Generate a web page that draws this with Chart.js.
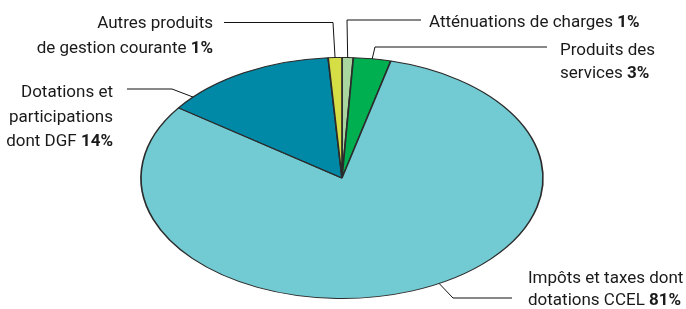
<!DOCTYPE html>
<html>
<head>
<meta charset="utf-8">
<script src="https://cdn.jsdelivr.net/npm/chart.js@4.4.0/dist/chart.umd.min.js"></script>
<style>
  html, body { margin: 0; padding: 0; background: #fff; }
  #wrap { width: 686px; height: 309px; position: relative; }
</style>
</head>
<body>
<div id="wrap"><canvas id="pie" width="686" height="309"></canvas></div>
<script>
// data, clockwise from 12 o'clock
let categories = ['Atténuations de charges', 'Produits des services', 'Impôts et taxes dont dotations CCEL', 'Dotations et participations dont DGF', 'Autres produits de gestion courante']
let values = [0.9, 3.0, 81.0, 14.0, 1.1]
let labelLines = [
  ['Atténuations de charges'],
  ['Produits des', 'services'],
  ['Impôts et taxes dont', 'dotations CCEL'],
  ['Dotations et', 'participations', 'dont DGF'],
  ['Autres produits', 'de gestion courante']
]
let colors = ['#a9d59f', '#00b050', '#72cad2', '#0089a6', '#d5df45']

// layout of the callouts (where on the slice, elbow, text)
let callouts = [
  { at: 0.5,  elbow: [347, 20],  end: [421, 20],  tx: 429, ty: [27], align: 'left' },
  { at: 0.5,  elbow: [375, 47],  end: [547, 47],  tx: 560, ty: [55, 78], align: 'left' },
  { at: 0.47, elbow: [453, 298], end: [512, 298], tx: 528, ty: [283, 305], align: 'left' },
  { at: 0.13, elbow: [172, 89],  end: [127, 89],  tx: 113, ty: [97, 122, 146], align: 'right' },
  { at: 0.5,  elbow: [333, 22.5], end: [224, 22.5], tx: 213, ty: [28, 53], align: 'right' }
]

const RX = 201   // horizontal radius of the flattened pie
const FONT = '17px Roboto'
const FONT_B = 'bold 17px Roboto'

// squash the circle into an ellipse
let ellipse = {
  id: 'ellipse',
  beforeDatasetsDraw(chart) {
    let arc = chart.getDatasetMeta(0).data[0]
    let ctx = chart.ctx
    ctx.save()
    ctx.translate(arc.x, 0)
    ctx.scale(RX / arc.outerRadius, 1)
    ctx.translate(-arc.x, 0)
  },
  afterDatasetsDraw(chart) {
    chart.ctx.restore()
  }
}

let callout = {
  id: 'callout',
  afterDraw(chart) {
    let ctx = chart.ctx
    let arcs = chart.getDatasetMeta(0).data
    arcs.forEach((arc, i) => {
      let c = callouts[i]
      let a = arc.startAngle + (arc.endAngle - arc.startAngle) * c.at
      let r = arc.outerRadius
      let px = arc.x + Math.cos(a) * RX
      let py = arc.y + Math.sin(a) * r
      ctx.save()
      ctx.strokeStyle = '#111'
      ctx.lineWidth = 1
      ctx.beginPath()
      ctx.moveTo(px, py)
      ctx.lineTo(c.elbow[0], c.elbow[1])
      ctx.lineTo(c.end[0], c.end[1])
      ctx.stroke()

      ctx.fillStyle = '#1a1a1a'
      ctx.textBaseline = 'alphabetic'
      ctx.textAlign = 'left'
      let lines = labelLines[i]
      let pct = Math.round(values[i]) + '%'
      lines.forEach((ln, j) => {
        let last = j == lines.length - 1
        ctx.font = FONT
        let txt = last ? ln + ' ' : ln
        let w1 = ctx.measureText(txt).width
        ctx.font = FONT_B
        let w2 = last ? ctx.measureText(pct).width : 0
        let x = c.align == 'right' ? c.tx - w1 - w2 : c.tx
        ctx.font = FONT
        ctx.fillText(txt, x, c.ty[j])
        if (last) {
          ctx.font = FONT_B
          ctx.fillText(pct, x + w1, c.ty[j])
        }
      })
      ctx.restore()
    })
  }
}

let ctx = document.getElementById('pie').getContext('2d')
let myChart = new Chart(ctx, {
  type: 'pie',
  data: {
    labels: categories,
    datasets: [{
      data: values,
      backgroundColor: colors,
      borderColor: '#2b2b2b',
      borderWidth: 1
    }]
  },
  options: {
    responsive: false,
    animation: false,
    layout: { padding: { top: 57, bottom: 10, left: 221, right: 223 } },
    plugins: {
      legend: { display: false },
      tooltip: { enabled: false }
    }
  },
  plugins: [ellipse, callout]
})
</script>
</body>
</html>
